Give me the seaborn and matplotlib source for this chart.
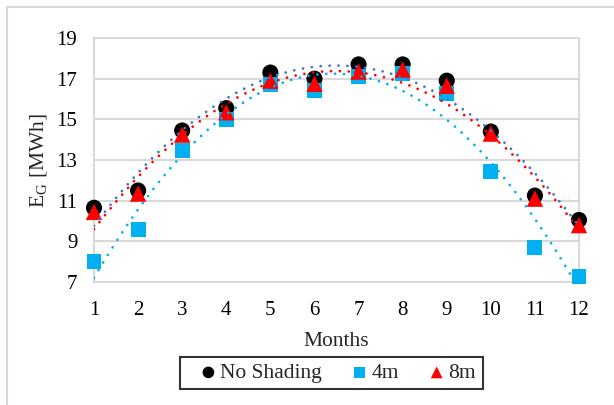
import numpy as np
import pandas as pd
import matplotlib
matplotlib.use("Agg")
import matplotlib.pyplot as plt
import seaborn as sns
from matplotlib.patches import Rectangle

# Значения
months = [1, 2, 3, 4, 5, 6, 7, 8, 9, 10, 11, 12]
no_shading = [10.65, 11.5, 14.45, 15.55, 17.3, 17.0, 17.7, 17.7, 16.9, 14.4, 11.25, 10.05]
shade_4m = [8.0, 9.6, 13.45, 15.0, 16.7, 16.4, 17.1, 17.25, 16.25, 12.45, 8.7, 7.25]
shade_8m = [10.45, 11.35, 14.25, 15.35, 16.9, 16.75, 17.35, 17.45, 16.65, 14.3, 11.1, 9.8]

series_names = ["No Shading", "4m", "8m"]
marker_colors = ["#000000", "#00B0F0", "#FF0000"]
trend_colors = ["#4472C4", "#00B0F0", "#FF0000"]
markers = ["o", "s", "^"]
sizes = [135, 115, 140]

sns.set_style("white")
plt.rcParams["font.family"] = ["Liberation Serif", "DejaVu Serif"]
plt.rcParams["mathtext.fontset"] = "custom"
plt.rcParams["mathtext.rm"] = "Liberation Serif"

df = pd.DataFrame({"Month": months, "No Shading": no_shading, "4m": shade_4m, "8m": shade_8m})

fig = plt.figure(figsize=(6.14, 4.05), dpi=100)
ax = fig.add_axes([94 / 614, 1 - 282 / 405, (579 - 94) / 614, (282 - 38) / 405])

# Рамка диаграммы (видны только левая и верхняя стороны)
fig.patches.append(Rectangle((7 / 614, -0.05), 1.1, 1 - 7 / 405 + 0.05, transform=fig.transFigure,
                             fill=False, edgecolor="#D9D9D9", linewidth=1.5))

# Маркеры
for i, name in enumerate(series_names):
    sns.scatterplot(data=df, x="Month", y=name, ax=ax, marker=markers[i], s=sizes[i],
                    color=marker_colors[i], edgecolor="none", linewidth=0, label=name,
                    clip_on=False, zorder=3 + i)

# Полиномиальные линии тренда (2-й степени)
xs = np.linspace(1, 12, 200)
for i, name in enumerate(series_names):
    coef = np.polyfit(df["Month"], df[name], 2)
    trend = pd.DataFrame({"x": xs, "y": np.polyval(coef, xs)})
    sns.lineplot(data=trend, x="x", y="y", ax=ax, color=trend_colors[i], linewidth=2.0,
                 linestyle=(0, (0.01, 3.2)), dash_capstyle="round", legend=False, zorder=7)

ax.set_xlim(1, 12)
ax.set_ylim(7, 19)
ax.set_xticks(months)
ax.set_yticks(np.arange(7, 20, 2))
ax.tick_params(axis="both", length=0, labelsize=15, colors="black")
ax.tick_params(axis="x", pad=14)
ax.tick_params(axis="y", pad=12)
ax.grid(axis="y", color="#D9D9D9", linewidth=1.5)
ax.set_axisbelow(True)
for side in ["left", "right", "top", "bottom"]:
    ax.spines[side].set_color("#D9D9D9")
    ax.spines[side].set_linewidth(1.5)

ax.set_xlabel("Months", fontsize=15.5, labelpad=8)
ax.set_ylabel(r"E$_\mathregular{G}$ [MWh]", fontsize=15.5, labelpad=5)

ax.get_legend().remove()
handles, labels = ax.get_legend_handles_labels()
leg = fig.legend(handles[:3], labels[:3], loc="center", bbox_to_anchor=(331.5 / 614, 1 - 373 / 405),
                 ncol=3, fontsize=15.5, frameon=True, fancybox=False, edgecolor="black",
                 handletextpad=-0.45, columnspacing=0.75, handlelength=2.0, markerscale=0.72,
                 borderpad=0.3)
leg.get_frame().set_linewidth(1.5)

fig.savefig("out.png", dpi=100)
